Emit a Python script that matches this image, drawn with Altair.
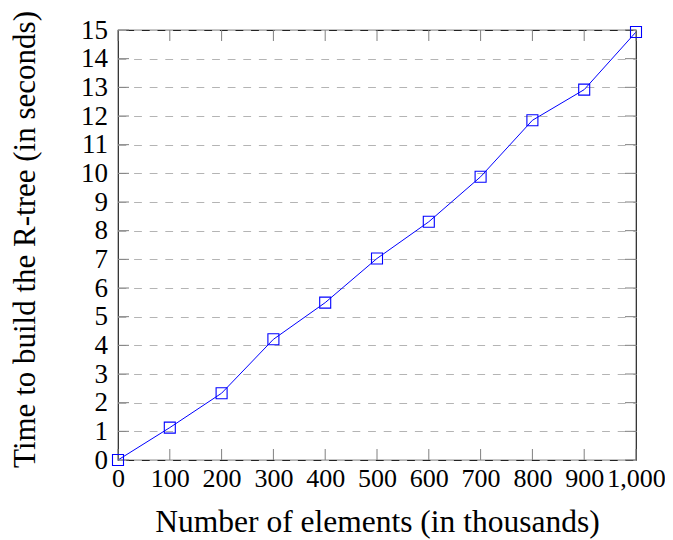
import altair as alt
import pandas as pd

# ---- data ----
elements = [0, 100, 200, 300, 400, 500, 600, 700, 800, 900, 1000]
seconds = [0.0, 1.13, 2.33, 4.21, 5.49, 7.03, 8.31, 9.88, 11.85, 12.92, 14.93]
x_ticks = [0, 100, 200, 300, 400, 500, 600, 700, 800, 900, 1000]
y_ticks = list(range(0, 16))

W, H = 518, 430
FONT = "Liberation Serif"
BLUE = "#0000ff"

df = pd.DataFrame({"elements": elements, "seconds": seconds})
xt = pd.DataFrame({"elements": x_ticks})
yt = pd.DataFrame({"seconds": y_ticks})

xscale = alt.Scale(domain=[0, 1000], nice=False, zero=False)
yscale = alt.Scale(domain=[0, 15], nice=False, zero=False)

x_axis = alt.Axis(
    values=x_ticks, format=",d", title="Number of elements (in thousands)",
    grid=False, ticks=False, tickSize=0, domain=False,
    labelPadding=5, labelFontSize=26, labelFont=FONT, labelColor="black",
    labelFlush=False, labelOverlap=False,
    titleFont=FONT, titleFontSize=31.5, titleFontWeight="normal", titleColor="black",
    titleX=W / 2, titleY=71, titleBaseline="alphabetic", titleAlign="center",
)
y_axis = alt.Axis(
    values=y_ticks, format="d", title="Time to build the R-tree (in seconds)",
    grid=True, gridDash=[7.8, 7.8], gridColor="#b4b4b4", gridWidth=1,
    ticks=False, tickSize=0, domain=False,
    labelPadding=10.5, labelFontSize=27, labelFont=FONT, labelColor="black",
    labelFlush=False, labelOverlap=False, labelBaseline="middle",
    titleFont=FONT, titleFontSize=31, titleFontWeight="normal", titleColor="black",
    titleX=-84, titleY=209, titleAngle=270, titleBaseline="alphabetic", titleAlign="center",
)

X = alt.X("elements:Q", scale=xscale, axis=x_axis)
Y = alt.Y("seconds:Q", scale=yscale, axis=y_axis)

line = alt.Chart(df).mark_line(color=BLUE, strokeWidth=1).encode(x=X, y=Y)
pts = alt.Chart(df).mark_point(shape="square", filled=False, color=BLUE, size=121,
                               strokeWidth=1.1, opacity=1).encode(x=X, y=Y)

TICK = "#808080"
xt_bot = alt.Chart(xt).mark_rule(color=TICK, strokeWidth=1).encode(
    x=X, y=alt.value(H), y2=alt.value(H - 11))
xt_top = alt.Chart(xt).mark_rule(color=TICK, strokeWidth=1).encode(
    x=X, y=alt.value(0), y2=alt.value(11))
yt_left = alt.Chart(yt).mark_rule(color=TICK, strokeWidth=1).encode(
    y=Y, x=alt.value(0), x2=alt.value(11))
yt_right = alt.Chart(yt).mark_rule(color=TICK, strokeWidth=1).encode(
    y=Y, x=alt.value(W - 11), x2=alt.value(W))

chart = alt.layer(line, xt_bot, xt_top, yt_left, yt_right, pts).properties(
    width=W, height=H,
    autosize=alt.AutoSizeParams(type="none"),
    padding={"left": 110, "top": 22, "right": 29, "bottom": 80},
).configure_view(stroke="#222222", strokeWidth=1.2)

chart.save("out.html", embed_options={"renderer": "svg", "actions": False})
